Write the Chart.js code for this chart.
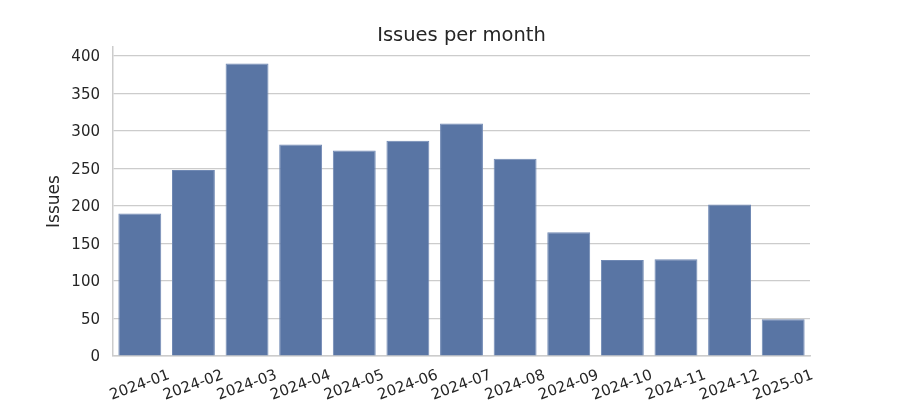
<!DOCTYPE html>
<html>
<head>
<meta charset="utf-8">
<script src="https://cdn.jsdelivr.net/npm/chart.js@4"></script>
<style>
  html, body { margin: 0; padding: 0; background: #fff; }
  #wrap { width: 900px; height: 400px; }
</style>
</head>
<body>
<div id="wrap"><canvas id="chart" width="900" height="400"></canvas></div>
<script>
// data
const months = ["2024-01", "2024-02", "2024-03", "2024-04", "2024-05", "2024-06", "2024-07",
  "2024-08", "2024-09", "2024-10", "2024-11", "2024-12", "2025-01"];
const issues = [190, 248, 390, 282, 274, 287, 310, 263, 165, 128, 129, 202, 49];
const yTicks = [0, 50, 100, 150, 200, 250, 300, 350, 400];
const titleText = "Issues per month";

const textColor = "#262626";
const gridColor = "#cccccc";
const font = "DejaVu Sans";

// title centred over the plot area, and matplotlib-style rotated labels centred on the tick
const extraText = {
  id: "extraText",
  afterDraw(chart) {
    const ctx = chart.ctx;
    const x = chart.scales.x;
    const area = chart.chartArea;
    ctx.save();
    ctx.fillStyle = textColor;
    ctx.textAlign = "center";
    ctx.textBaseline = "middle";
    ctx.font = `19.5px "${font}"`;
    ctx.fillText(titleText, (area.left + area.right) / 2, 35.5);

    ctx.font = `15px "${font}"`;
    months.forEach((m, i) => {
      const px = x.getPixelForTick(i);
      ctx.save();
      ctx.translate(px, 385.5);
      ctx.rotate(-20 * Math.PI / 180);
      ctx.fillText(m, 0, 0);
      ctx.restore();
    });
    ctx.restore();
  }
};

new Chart(document.getElementById("chart"), {
  type: "bar",
  data: {
    labels: months,
    datasets: [{
      data: issues,
      backgroundColor: "#5975a4",
      borderColor: "#7089b4",
      borderWidth: 1,
      barPercentage: 0.8,
      categoryPercentage: 1
    }]
  },
  options: {
    responsive: false,
    animation: false,
    layout: { padding: { left: 0, right: 90, top: 47, bottom: 0 } },
    plugins: {
      legend: { display: false },
      tooltip: { enabled: false },
      title: { display: false }
    },
    scales: {
      x: {
        ticks: { display: false },
        grid: { display: false, drawTicks: false },
        border: { display: true, color: gridColor, width: 1.5 },
        afterFit(scale) { scale.height = 44; }
      },
      y: {
        min: 0,
        max: 412,
        afterBuildTicks(scale) { scale.ticks = yTicks.map(v => ({ value: v })); },
        ticks: {
          color: textColor,
          padding: 13,
          labelOffset: 1.5,
          font: { family: font, size: 15 }
        },
        grid: { color: gridColor, lineWidth: 1.2, drawTicks: false },
        border: { display: true, color: gridColor, width: 1.5 },
        title: {
          display: true,
          text: "Issues",
          color: textColor,
          font: { family: font, size: 17 },
          padding: { top: 44, bottom: 0 }
        },
        afterFit(scale) { scale.width = 113; }
      }
    }
  },
  plugins: [extraText]
});
</script>
</body>
</html>
